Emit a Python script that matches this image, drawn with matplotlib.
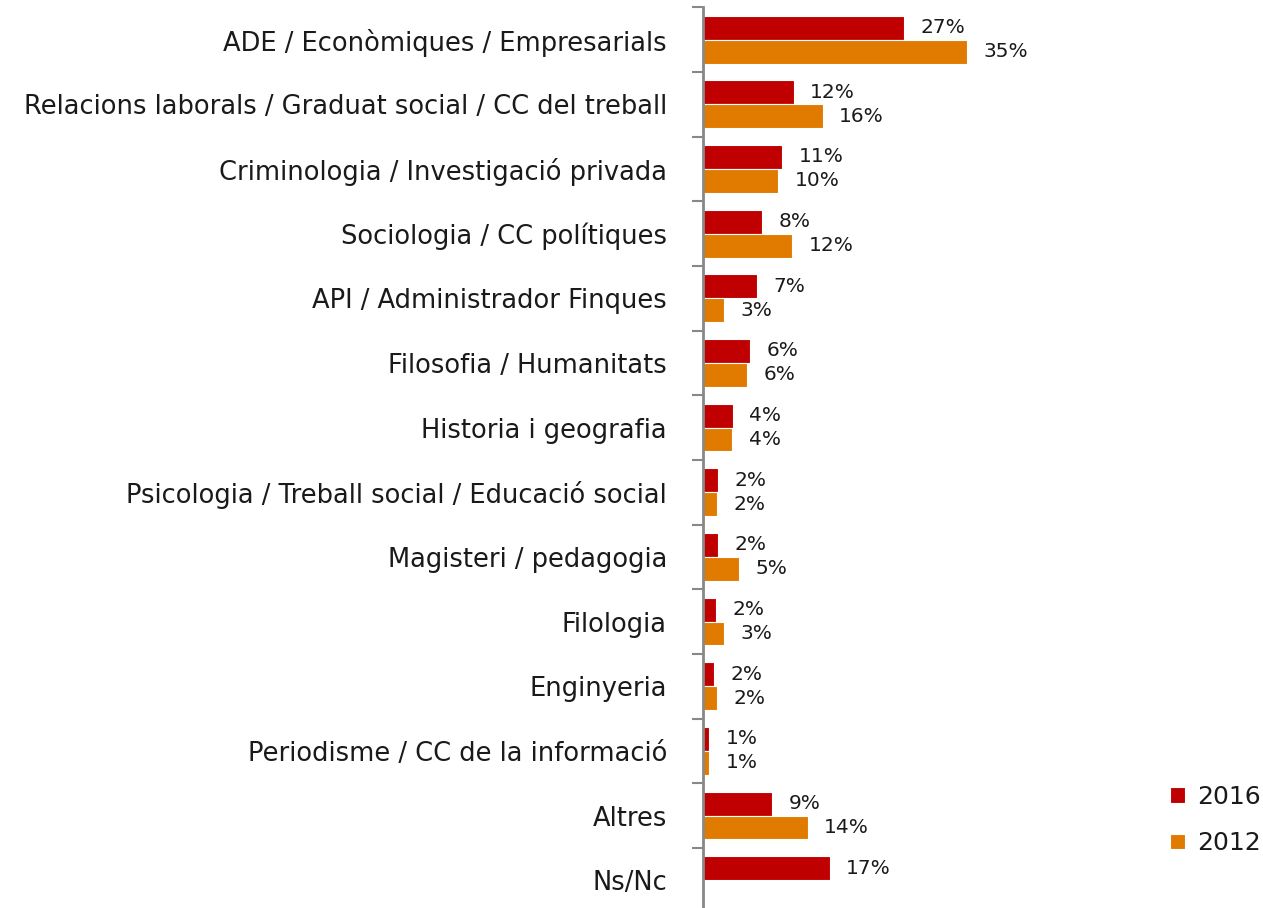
import matplotlib
matplotlib.use('Agg')
import numpy as np
import matplotlib.pyplot as plt

categories = ['ADE / Econòmiques / Empresarials',
              'Relacions laborals / Graduat social / CC del treball',
              'Criminologia / Investigació privada',
              'Sociologia / CC polítiques',
              'API / Administrador Finques',
              'Filosofia / Humanitats',
              'Historia i geografia',
              'Psicologia / Treball social / Educació social',
              'Magisteri / pedagogia',
              'Filologia',
              'Enginyeria',
              'Periodisme / CC de la informació',
              'Altres',
              'Ns/Nc']
v2016 = [26.9, 12.1, 10.6, 7.9, 7.2, 6.3, 4.0, 2.0, 2.0, 1.7, 1.5, 0.8, 9.2, 16.9]
v2012 = [35.3, 16.0, 10.0, 11.9, 2.8, 5.9, 3.9, 1.9, 4.8, 2.8, 1.9, 0.8, 14.0, None]
lab2016 = ['27%', '12%', '11%', '8%', '7%', '6%', '4%', '2%', '2%', '2%', '2%', '1%', '9%', '17%']
lab2012 = ['35%', '16%', '10%', '12%', '3%', '6%', '4%', '2%', '5%', '3%', '2%', '1%', '14%', '']

red = '#C00000'
orange = '#E17B00'
txt = '#1a1a1a'

fig = plt.figure(figsize=(12.63, 9.08), dpi=100)
ax = fig.add_axes([703/1263, -0.005, 307/1263, 0.997])

n = len(categories)
y = np.arange(n)
h = 0.37
b1 = ax.barh(y - h/2, v2016, height=h, color=red, edgecolor='white', linewidth=0.8, label='2016')
v12 = [v if v is not None else 0 for v in v2012]
b2 = ax.barh(y + h/2, v12, height=h, color=orange, edgecolor='white', linewidth=0.8, label='2012')

for i in range(n):
    ax.text(v2016[i] + 2.2, y[i] - h/2, lab2016[i], va='center', ha='left', fontsize=14.5, color=txt)
    if v2012[i] is not None:
        ax.text(v2012[i] + 2.2, y[i] + h/2, lab2012[i], va='center', ha='left', fontsize=14.5, color=txt)

ax.set_ylim(n - 0.5, -0.5)
ax.set_xlim(0, 41)
ax.set_yticks(y)
ax.set_yticklabels(categories, fontsize=18.5, color=txt)
ax.set_yticks(np.arange(n + 1) - 0.5, minor=True)
ax.tick_params(axis='y', which='major', length=0, pad=26)
ax.tick_params(axis='y', which='minor', length=8, width=1.5, color='#888888')
ax.set_xticks([])
for s in ['top', 'right', 'bottom']:
    ax.spines[s].set_visible(False)
ax.spines['left'].set_color('#888888')
ax.spines['left'].set_linewidth(2)

fig.legend(handles=[b1, b2], loc='center left', bbox_to_anchor=(1170/1263, 1 - 820/908),
           frameon=False, fontsize=18, handlelength=0.6, handleheight=0.6,
           handletextpad=0.5, labelspacing=0.9, labelcolor=txt, borderaxespad=0, borderpad=0)

fig.savefig('out.png', dpi=100)
